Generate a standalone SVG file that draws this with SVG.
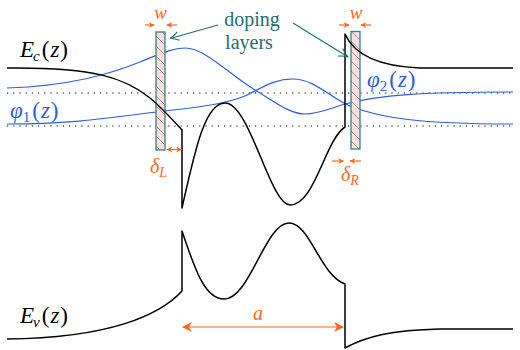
<svg xmlns="http://www.w3.org/2000/svg" width="520" height="350" viewBox="0 0 520 350">
<style>
.band{fill:none;stroke:#000;stroke-width:1.5;stroke-linejoin:round}
.wave{fill:none;stroke:#2a5ee0;stroke-width:1.2}
.dot{fill:none;stroke:#000;stroke-width:1.2;stroke-dasharray:1.2 5}
.layer{fill:url(#hatch);stroke:#3f7e7e;stroke-width:1.3}
.dim{fill:none;stroke:#ff6622;stroke-width:1.2}
.ptr{fill:none;stroke:#1e6e6e;stroke-width:1.1}
text{font-family:'Liberation Serif','Times New Roman',serif}
.math{font-style:italic}
.up{font-style:normal}
.lab{font-size:20px;fill:#1e6e6e}
</style>
<defs>
<pattern id="hatch" patternUnits="userSpaceOnUse" width="10" height="10">
<rect width="10" height="10" fill="#fcdcdc"/>
<path d="M0,0 L10,10 M-2,8 L2,12 M8,-2 L12,2" stroke="#5a8a8a" stroke-width="0.7"/>
</pattern>
<marker id="oa" viewBox="0 0 10 10" refX="9" refY="5" markerWidth="6" markerHeight="6" orient="auto-start-reverse" markerUnits="userSpaceOnUse">
<path d="M0,0 L10,5 L0,10 L3,5 Z" fill="#ff6622"/>
</marker>
<marker id="ob" viewBox="0 0 10 10" refX="9" refY="5" markerWidth="12" markerHeight="10" orient="auto-start-reverse" markerUnits="userSpaceOnUse">
<path d="M0,0 L10,5 L0,10 L3,5 Z" fill="#ff6622"/>
</marker>
<marker id="ta" viewBox="0 0 10 10" refX="9" refY="5" markerWidth="11" markerHeight="11" orient="auto" markerUnits="userSpaceOnUse">
<path d="M1,1 Q5,4 9,5 Q5,6 1,9" fill="none" stroke="#1e6e6e" stroke-width="1"/>
</marker>
</defs>

<rect width="520" height="350" fill="#fff"/>

<g id="levels">
<line class="dot" x1="7" y1="93" x2="513" y2="93"/>
<line class="dot" x1="7" y1="126" x2="513" y2="126"/>
</g>

<g id="wavefunctions">
<path class="wave" d="M7,124 C80,124 120,116 165,111 C200,107 225,104 245,96 C265,86 275,79 293,79 C315,79 330,98 350,106 C380,118 420,124 513,124"/>
<path class="wave" d="M7,88 C70,86 110,74 140,62 C160,54 172,48 185,48 C205,48 230,75 255,90 C275,102 290,114 305,114 C320,114 330,108 345,104 C380,95 420,92 513,92"/>
</g>

<g id="layer-left"><rect class="layer" x="156" y="32" width="9" height="118"/></g>
<g id="layer-right"><rect class="layer" x="351" y="31.5" width="9" height="117.5"/></g>

<g id="conduction-band">
<path class="band" d="M7,68 C95,67 125,78 150,98 C162,108 172,119 182,130 L182,208 C195,150 205,103 225,103 C250,103 270,205 290,205 C315,205 325,140 345,127 L345,34 C352,50 370,66 420,68 L513,68"/>
</g>
<g id="valence-band">
<path class="band" d="M7,339 C110,338 160,315 182,291 L182,231 C195,270 205,299 224,299 C250,299 265,223 289,223 C310,223 320,275 345,284 L345,348 C365,337 390,330 440,329 L513,329"/>
</g>

<g id="connectors">
<line class="ptr" x1="218" y1="25" x2="170" y2="38.5" marker-end="url(#ta)"/>
<line class="ptr" x1="293" y1="23" x2="348" y2="57" marker-end="url(#ta)"/>
<line class="dim" x1="145" y1="25" x2="154" y2="25" marker-end="url(#oa)"/>
<line class="dim" x1="177" y1="25" x2="167" y2="25" marker-end="url(#oa)"/>
<line class="dim" x1="339" y1="25" x2="349" y2="25" marker-end="url(#oa)"/>
<line class="dim" x1="371" y1="25" x2="361" y2="25" marker-end="url(#oa)"/>
<line class="dim" x1="167" y1="149.5" x2="181.5" y2="149.5" marker-start="url(#oa)" marker-end="url(#oa)"/>
<line class="dim" x1="332" y1="161" x2="343.5" y2="161" marker-end="url(#oa)"/>
<line class="dim" x1="361" y1="161" x2="350" y2="161" marker-end="url(#oa)"/>
<line class="dim" x1="183" y1="327" x2="343" y2="327" marker-start="url(#ob)" marker-end="url(#ob)"/>
</g>

<g id="labels">
<text class="lab" x="252" y="26" text-anchor="middle">doping</text>
<text class="lab" x="249" y="48.5" text-anchor="middle">layers</text>
<text class="math" x="160.5" y="19" font-size="19" fill="#ff6622" text-anchor="middle">w</text>
<text class="math" x="356" y="19" font-size="19" fill="#ff6622" text-anchor="middle">w</text>
<text class="math" x="150" y="173" font-size="20" fill="#ff6622">δ<tspan font-size="14" dy="4">L</tspan></text>
<text class="math" x="341" y="181" font-size="20" fill="#ff6622">δ<tspan font-size="14" dy="4">R</tspan></text>
<text class="math" x="258" y="320" font-size="20" fill="#ff6622" text-anchor="middle">a</text>
<text class="math" x="20" y="57" font-size="23" fill="#000">E<tspan font-size="15" dy="4" dx="-1">c</tspan><tspan class="up" dy="-4" dx="2">(</tspan><tspan dx="1">z</tspan><tspan class="up" dx="1">)</tspan></text>
<text class="math" x="20" y="323" font-size="23" fill="#000">E<tspan font-size="15" dy="4" dx="-1">v</tspan><tspan class="up" dy="-4" dx="2">(</tspan><tspan dx="1">z</tspan><tspan class="up" dx="1">)</tspan></text>
<text class="math" x="10" y="118" font-size="23" fill="#2a5ee0">φ<tspan class="up" font-size="15" dy="4">1</tspan><tspan class="up" dy="-4" dx="2">(</tspan><tspan dx="1">z</tspan><tspan class="up" dx="1">)</tspan></text>
<text class="math" x="367" y="87" font-size="23" fill="#2a5ee0">φ<tspan class="up" font-size="15" dy="4">2</tspan><tspan class="up" dy="-4" dx="2">(</tspan><tspan dx="1">z</tspan><tspan class="up" dx="1">)</tspan></text>
</g>
</svg>
